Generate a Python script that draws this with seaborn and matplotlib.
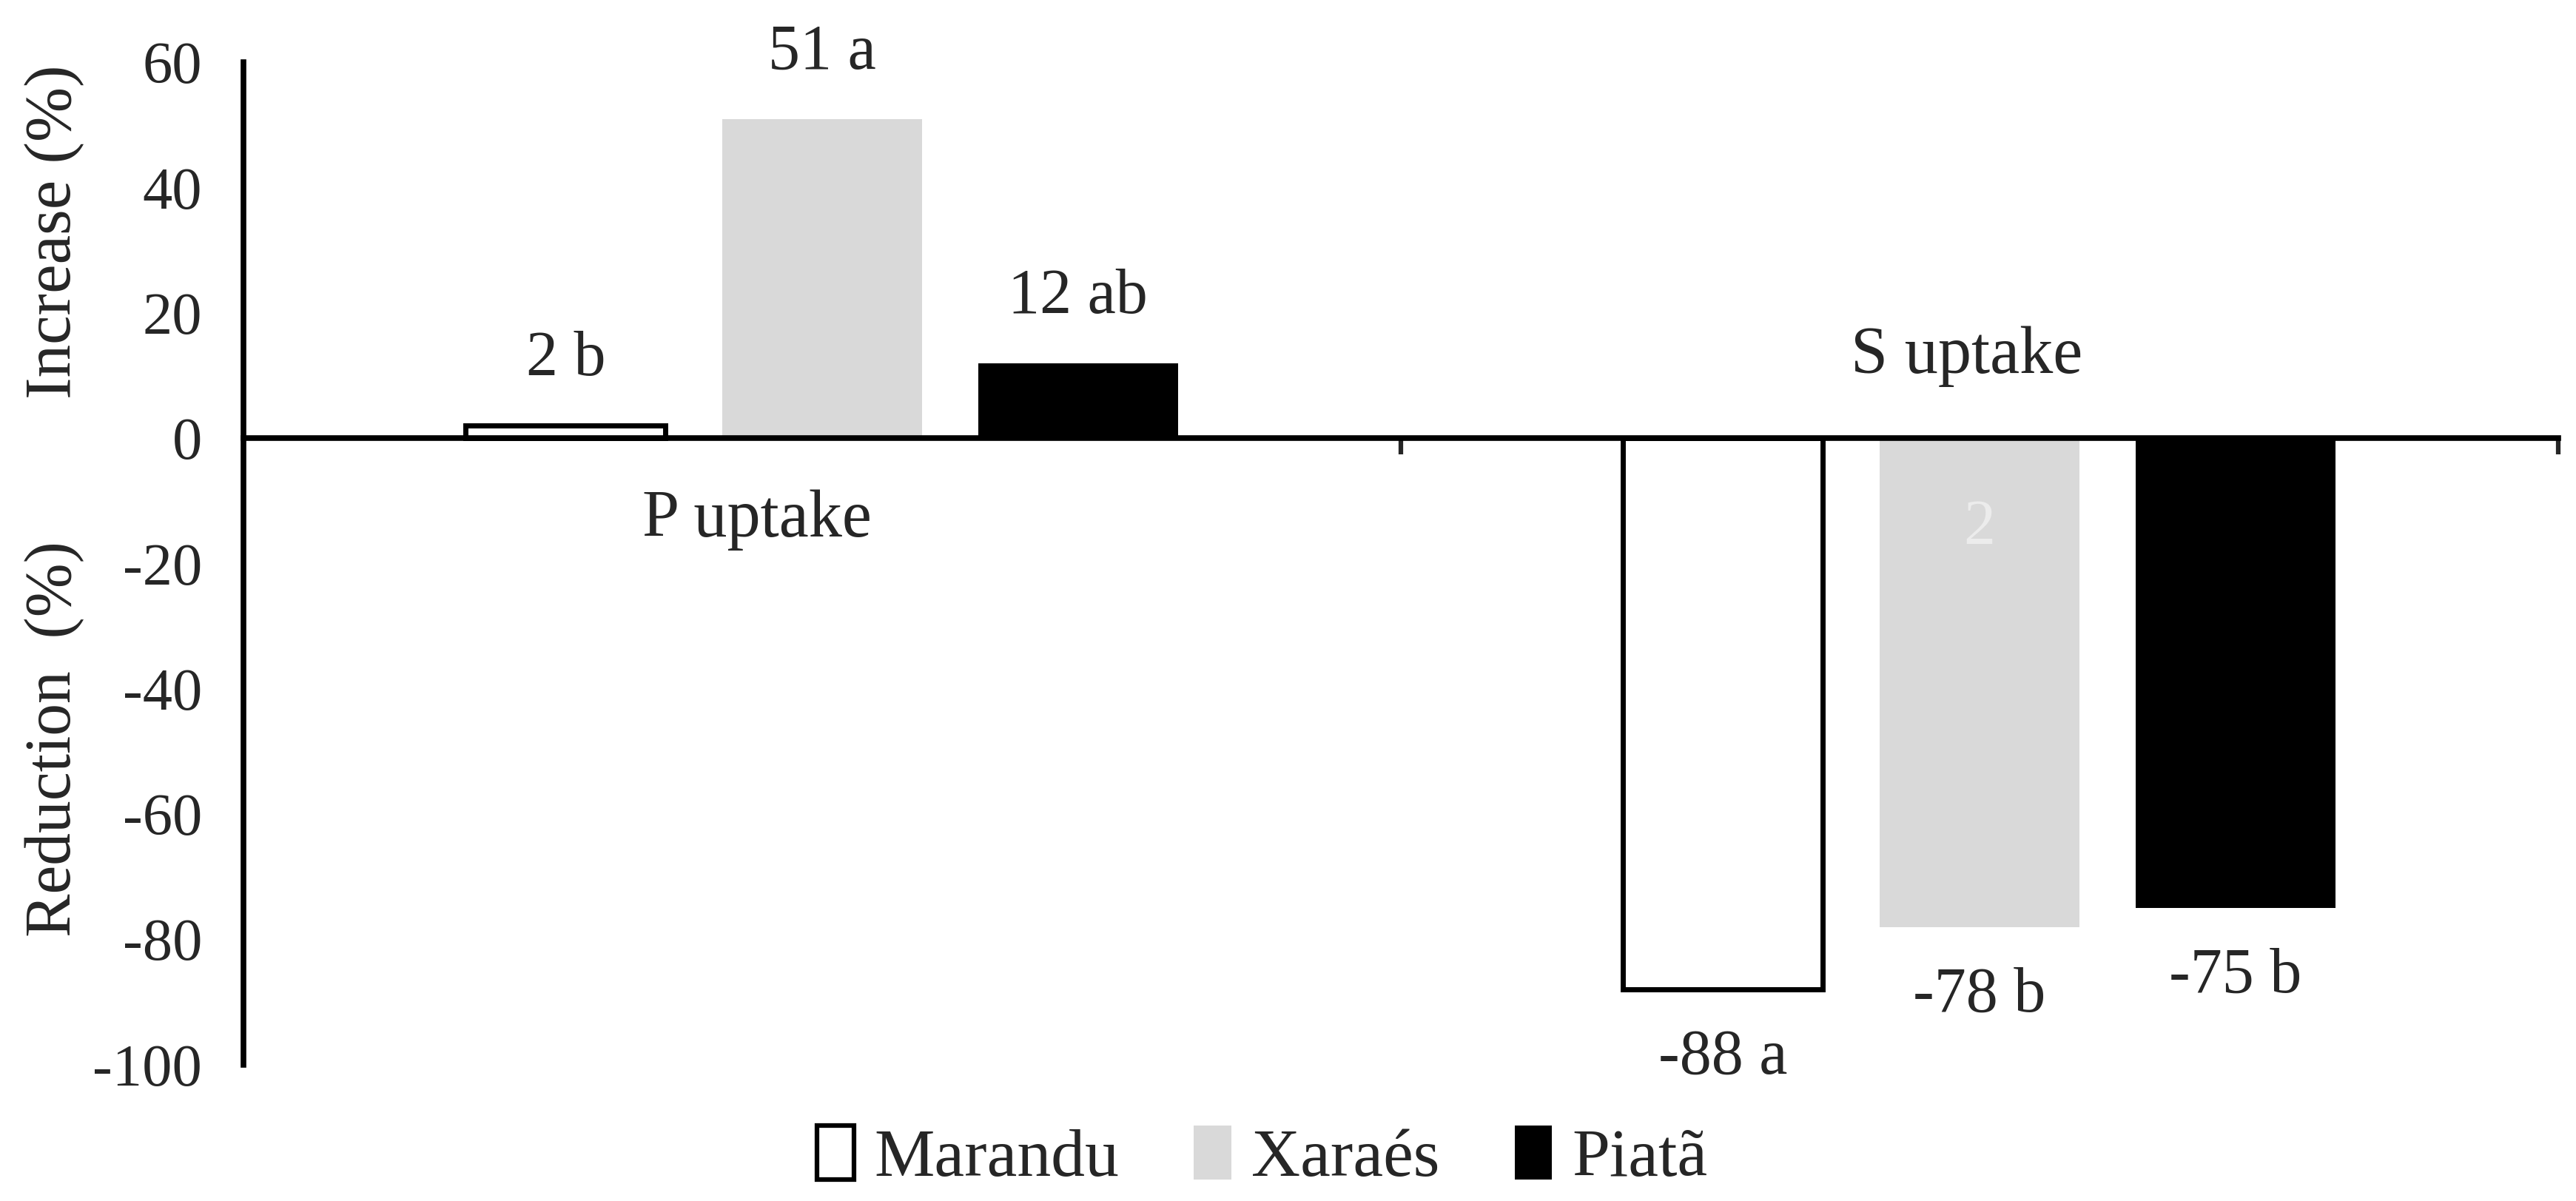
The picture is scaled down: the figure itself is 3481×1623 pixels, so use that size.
#!/usr/bin/env python3
"""P and S uptake change per cultivar — diverging bar chart."""

import matplotlib.pyplot as plt
import pandas as pd
import seaborn as sns

NUTRIENTS = ["P uptake", "S uptake"]
CULTIVARS = ["Marandu", "Xaraés", "Piatã"]
P_VALUES = [2, 51, 12]
S_VALUES = [-88, -78, -75]
P_LETTERS = ["b", "a", "ab"]
S_LETTERS = ["a", "b", "b"]
Y_TICKS = [-100, -80, -60, -40, -20, 0, 20, 40, 60]

COLORS = {"Marandu": "white", "Xaraés": "#d9d9d9", "Piatã": "black"}


def main() -> None:
    sns.set_theme(style="white")
    plt.rcParams["font.family"] = ["Liberation Serif", "DejaVu Serif"]
    plt.rcParams["axes.unicode_minus"] = False

    df = pd.DataFrame({
        "nutrient": [NUTRIENTS[0]] * 3 + [NUTRIENTS[1]] * 3,
        "cultivar": CULTIVARS * 2,
        "value": P_VALUES + S_VALUES,
        "letter": P_LETTERS + S_LETTERS,
    })

    fig = plt.figure(figsize=(34.81, 16.23), dpi=100)
    ax = fig.add_axes([0.0944, 0.1135, 0.8986, 0.8345])

    sns.barplot(
        data=df, x="nutrient", y="value", hue="cultivar",
        order=NUTRIENTS, hue_order=CULTIVARS, palette=COLORS,
        width=0.664, gap=0.22, errorbar=None, ax=ax, legend=False,
    )

    for cont, cult in zip(ax.containers, CULTIVARS):
        for bar in cont:
            if cult == "Marandu":
                bar.set_edgecolor("black")
                bar.set_linewidth(5)
            else:
                bar.set_edgecolor("none")

    # etiquetas de valor + letra
    for cont, cult in zip(ax.containers, CULTIVARS):
        sub = df[df["cultivar"] == cult].set_index("nutrient").loc[NUTRIENTS]
        for bar, (v, let) in zip(cont, zip(sub["value"], sub["letter"])):
            xc = bar.get_x() + bar.get_width() / 2
            yy = v + 10.5 if v >= 0 else v - 11
            ax.text(xc, yy, f"{v} {let}", ha="center", va="center",
                    fontsize=62, clip_on=False)

    # "2" casi invisible dentro de la barra Xaraés de S
    xb = ax.containers[1][1]
    ax.text(xb.get_x() + xb.get_width() / 2, -14.4, "2", ha="center",
            va="center", fontsize=62, color="#ececec")

    ax.text(-0.056, -13, NUTRIENTS[0], ha="center", va="center", fontsize=65)
    ax.text(0.989, 13, NUTRIENTS[1], ha="center", va="center", fontsize=65)

    ax.set_ylim(-100, 60)
    ax.set_xlim(-0.5, 1.5)
    ax.set_yticks(Y_TICKS)
    ax.set_yticklabels([str(t) for t in Y_TICKS])
    ax.tick_params(axis="y", length=0, pad=40, labelsize=58)
    ax.set_xticks([0.5, 1.5])
    ax.set_xticklabels([])
    ax.tick_params(axis="x", direction="out", length=16, width=4.5, bottom=True)
    ax.set_xlabel("")
    ax.set_ylabel("")

    for side in ("top", "right"):
        ax.spines[side].set_visible(False)
    ax.spines["bottom"].set_position(("data", 0))
    for side in ("bottom", "left"):
        ax.spines[side].set_linewidth(5.5)
        ax.spines[side].set_color("black")
    ax.spines["bottom"].set_zorder(5)

    ax.text(-0.0816, 33, "Increase (%)", transform=ax.get_yaxis_transform(),
            rotation=90, ha="center", va="center", fontsize=64)
    ax.text(-0.0816, -48, "Reduction  (%)", transform=ax.get_yaxis_transform(),
            rotation=90, ha="center", va="center", fontsize=63)

    handles = [
        plt.Rectangle((0, 0), 1, 1, facecolor="white", edgecolor="black", linewidth=4.5),
        plt.Rectangle((0, 0), 1, 1, facecolor="#d9d9d9", edgecolor="none"),
        plt.Rectangle((0, 0), 1, 1, facecolor="black", edgecolor="none"),
    ]
    fig.legend(handles, CULTIVARS, loc="center", bbox_to_anchor=(0.49, 0.036),
               ncol=3, frameon=False, fontsize=66, handlelength=0.55,
               handleheight=0.85, handletextpad=0.3, columnspacing=1.1)

    fig.savefig("out.png", dpi=100)
    plt.close(fig)


if __name__ == "__main__":
    main()
